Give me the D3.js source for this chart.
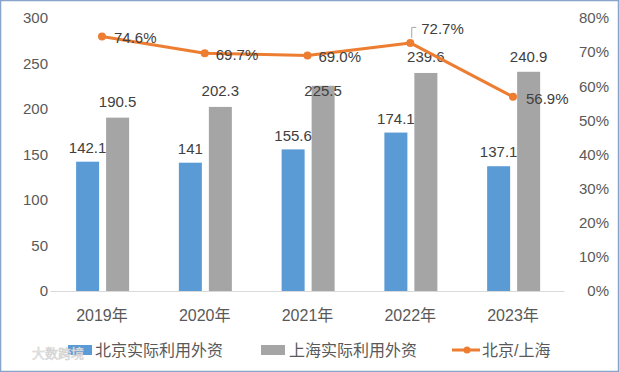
<!DOCTYPE html>
<html><head><meta charset="utf-8">
<script src="https://cdn.jsdelivr.net/npm/d3@7"></script>
<style>
html,body{margin:0;padding:0;background:#fff;}
svg{display:block;}
text{font-family:"Liberation Sans","Noto Sans CJK SC",sans-serif;fill:#404040;}
</style></head>
<body>
<svg id="c" width="619" height="372"></svg>
<script>
const years = ["2019年","2020年","2021年","2022年","2023年"];
const beijing = [142.1, 141, 155.6, 174.1, 137.1];
const shanghai = [190.5, 202.3, 225.5, 239.6, 240.9];
const ratio = [74.6, 69.7, 69.0, 72.7, 56.9];
const ratioLabels = ["74.6%","69.7%","69.0%","72.7%","56.9%"];
const leftTicks = [0,50,100,150,200,250,300];
const rightTicks = [0,10,20,30,40,50,60,70,80];
const seriesNames = ["北京实际利用外资","上海实际利用外资","北京/上海"];
const colors = {bj:"#5b9bd5", sh:"#a5a5a5", line:"#ed7d31"};

const svg = d3.select("#c");
svg.append("rect").attr("x",0.5).attr("y",0.5).attr("width",618).attr("height",371)
  .attr("fill","#fff").attr("stroke","#87a5cb").attr("stroke-width",1.5);

const x = d3.scaleBand().domain(years).range([50.6,564.4]).padding(0);
const inner = d3.scaleBand().domain([0,1]).range([25.5,78.5]).paddingInner(0.233);
const y = d3.scaleLinear().domain([0,300]).range([291,18]);
const yr = d3.scaleLinear().domain([0,80]).range([291,18]);

// left axis labels
svg.append("g").selectAll("text").data(leftTicks).join("text")
  .attr("x",48).attr("y",d=>y(d)).attr("dy","0.35em").attr("text-anchor","end")
  .style("font-size","15px").style("fill","#595959").text(d=>d);
// right axis labels
svg.append("g").selectAll("text").data(rightTicks).join("text")
  .attr("x",609).attr("y",d=>yr(d)).attr("dy","0.35em").attr("text-anchor","end")
  .style("font-size","15px").style("fill","#595959").text(d=>d+"%");

// baseline
svg.append("line").attr("x1",x.range()[0]).attr("x2",x.range()[1])
  .attr("y1",y(0)+0.5).attr("y2",y(0)+0.5).attr("stroke","#d9d9d9").attr("stroke-width",1);

// bars
const g = svg.append("g");
g.selectAll(".bj").data(beijing).join("rect").attr("class","bj")
  .attr("x",(d,i)=>x(years[i])+inner(0)).attr("width",inner.bandwidth())
  .attr("y",d=>y(d)).attr("height",d=>y(0)-y(d)).attr("fill",colors.bj);
g.selectAll(".sh").data(shanghai).join("rect").attr("class","sh")
  .attr("x",(d,i)=>x(years[i])+inner(1)).attr("width",inner.bandwidth())
  .attr("y",d=>y(d)).attr("height",d=>y(0)-y(d)).attr("fill",colors.sh);

// bar labels
const shLabelOff = [-16,-16,5,-16,-15];
g.selectAll(".bjl").data(beijing).join("text")
  .attr("x",(d,i)=>x(years[i])+inner(0)+inner.bandwidth()/2).attr("y",d=>y(d)-14).attr("dy","0.35em")
  .attr("text-anchor","middle").style("font-size","15px").text(d=>d);
g.selectAll(".shl").data(shanghai).join("text")
  .attr("x",(d,i)=>x(years[i])+inner(1)+inner.bandwidth()/2).attr("y",(d,i)=>y(d)+shLabelOff[i]).attr("dy","0.35em")
  .attr("text-anchor","middle").style("font-size","15px").text(d=>d);

// x labels
svg.append("g").selectAll("text").data(years).join("text")
  .attr("x",d=>x(d)+x.bandwidth()/2).attr("y",315).attr("dy","0.35em").attr("text-anchor","middle")
  .style("font-size","16px").style("fill","#595959").text(d=>d);

// line
const cx = (d,i)=>x(years[i])+x.bandwidth()/2;
svg.append("path").datum(ratio)
  .attr("d", d3.line().x(cx).y(d=>yr(d)))
  .attr("fill","none").attr("stroke",colors.line).attr("stroke-width",3).attr("stroke-linejoin","round");
svg.append("g").selectAll("circle").data(ratio).join("circle")
  .attr("cx",cx).attr("cy",d=>yr(d)).attr("r",4).attr("fill",colors.line);

// line labels
const offs = [[12,1.5],[11,2],[11,1],[11,-14.5],[13,1.5]];
svg.append("g").selectAll("text").data(ratio).join("text")
  .attr("x",(d,i)=>cx(d,i)+offs[i][0]).attr("y",(d,i)=>yr(d)+offs[i][1]).attr("dy","0.35em")
  .style("font-size","15px").text((d,i)=>ratioLabels[i]);
// leader for 72.7%
svg.append("path").attr("d",()=>{const px=cx(ratio[3],3), py=yr(ratio[3]);
  return `M${px+1.5},${py-5}V${py-15.5}H${px+6}`;})
  .attr("fill","none").attr("stroke","#a6a6a6").attr("stroke-width",1);

// legend
const lg = svg.append("g");
lg.append("rect").attr("x",68).attr("y",345).attr("width",24).attr("height",10).attr("fill",colors.bj);
lg.append("text").attr("x",95).attr("y",350).attr("dy","0.35em").style("font-size","16px").style("fill","#595959").text(seriesNames[0]);
lg.append("rect").attr("x",261).attr("y",345).attr("width",24).attr("height",10).attr("fill",colors.sh);
lg.append("text").attr("x",289).attr("y",350).attr("dy","0.35em").style("font-size","16px").style("fill","#595959").text(seriesNames[1]);
lg.append("line").attr("x1",452).attr("x2",480).attr("y1",350).attr("y2",350).attr("stroke",colors.line).attr("stroke-width",3);
lg.append("circle").attr("cx",467).attr("cy",350).attr("r",3.5).attr("fill",colors.line);
lg.append("text").attr("x",482).attr("y",350).attr("dy","0.35em").style("font-size","16px").style("fill","#595959").text(seriesNames[2]);

// watermark
svg.append("text").attr("x",32).attr("y",358).style("font-size","13px")
  .style("fill","#f5f5f5").style("stroke","#d0d0d0").style("stroke-width",0.6).text("大数跨境");
</script>
</body></html>
